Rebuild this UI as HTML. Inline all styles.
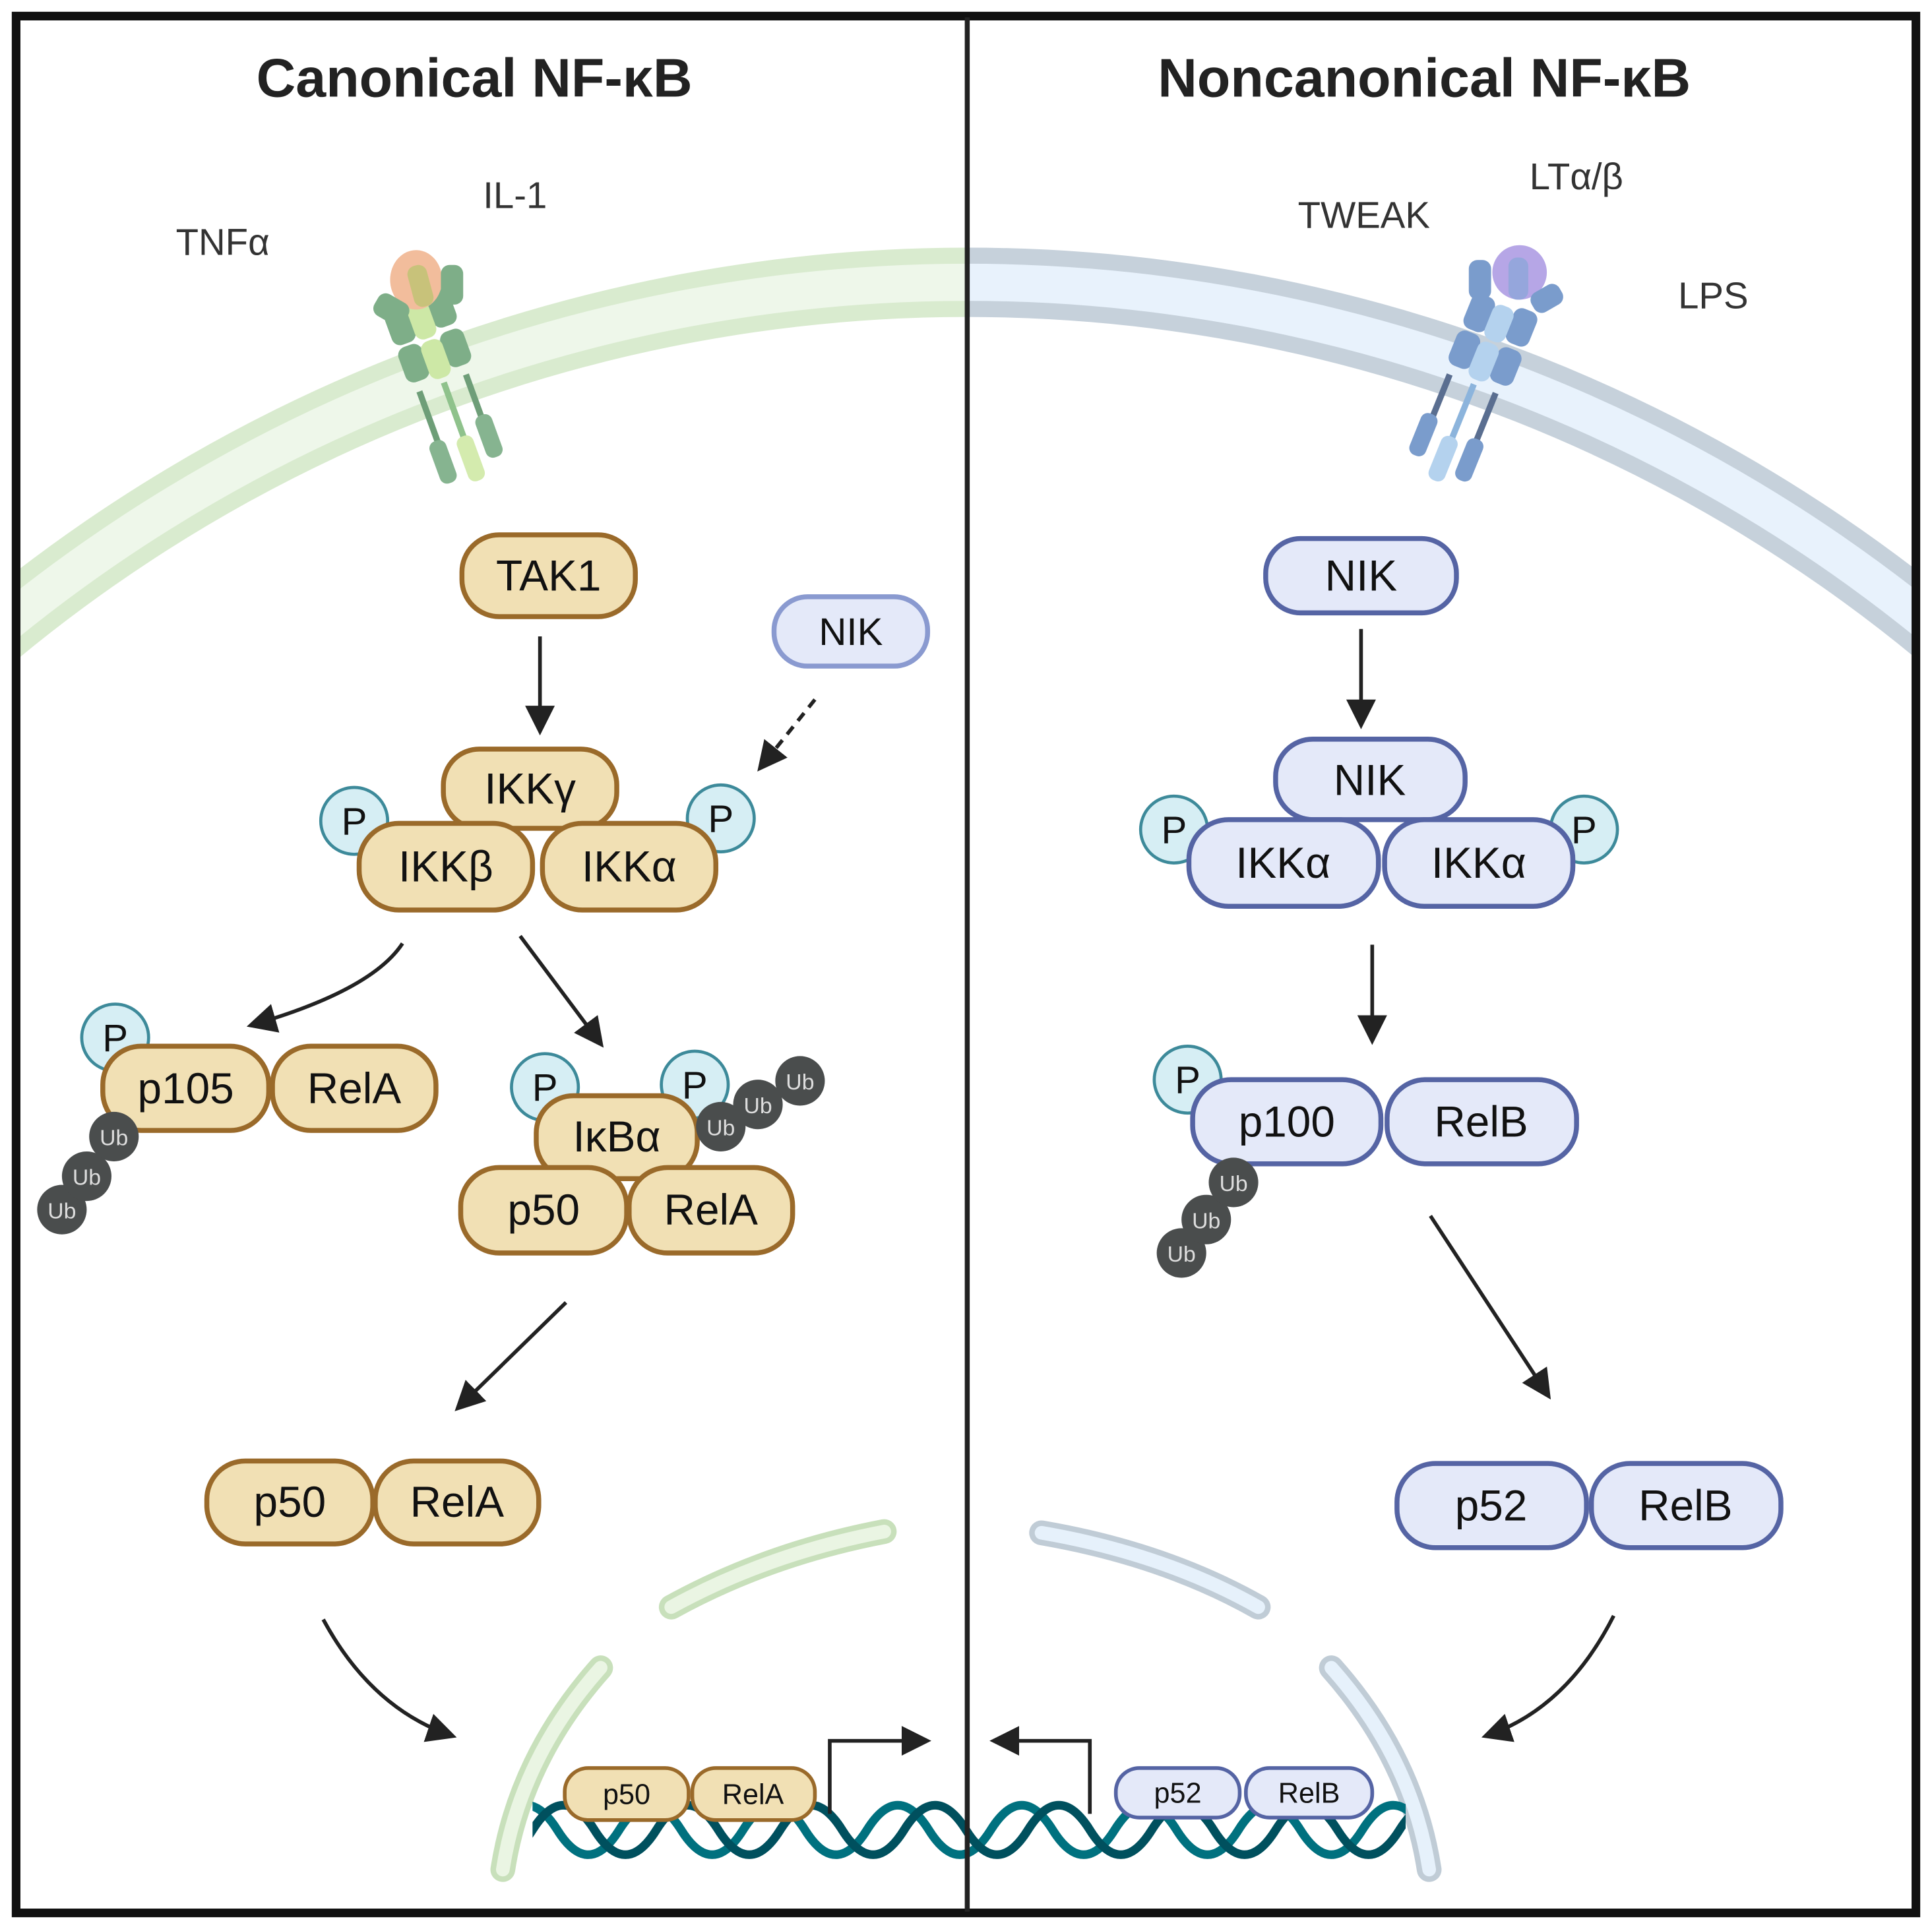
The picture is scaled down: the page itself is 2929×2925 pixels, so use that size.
<!DOCTYPE html>
<html><head><meta charset="utf-8">
<style>
html,body{margin:0;padding:0;background:#fff;overflow:hidden;width:2929px;height:2925px;position:relative;}
svg{display:block;position:absolute;left:0;top:0;}
text{font-family:"Liberation Sans","DejaVu Sans",sans-serif;}
</style></head>
<body>
<svg width="2929" height="2925" viewBox="0 0 1560 1558" preserveAspectRatio="none" xmlns="http://www.w3.org/2000/svg">
<defs>
<marker id="a" viewBox="0 0 12 12" refX="10" refY="6" markerWidth="24" markerHeight="24" markerUnits="userSpaceOnUse" orient="auto">
<path d="M0,0 L12,6 L0,12 z" fill="#222"/>
</marker>
<clipPath id="cl"><rect x="14" y="14" width="767" height="1530"/></clipPath>
<clipPath id="cr"><rect x="781" y="14" width="765" height="1530"/></clipPath>
<clipPath id="cd"><rect x="430" y="1400" width="705" height="130"/></clipPath>
</defs>
<rect width="1560" height="1558" fill="#fff"/>

<g clip-path="url(#cl)">
<circle cx="781" cy="1458" r="1230" fill="none" stroke="#d9ebcf" stroke-width="56"/>
<circle cx="781" cy="1458" r="1230" fill="none" stroke="#eef7ea" stroke-width="30"/>
</g>
<g clip-path="url(#cr)">
<circle cx="781" cy="1458" r="1230" fill="none" stroke="#c6d1db" stroke-width="56"/>
<circle cx="781" cy="1458" r="1230" fill="none" stroke="#e8f2fc" stroke-width="30"/>
</g>

<g fill="none" stroke-linecap="round">
<path d="M542,1298 Q620,1255 714,1237" stroke="#c8e0bb" stroke-width="20"/>
<path d="M542,1298 Q620,1255 714,1237" stroke="#eaf5e3" stroke-width="11"/>
<path d="M485,1347 Q420,1420 406,1510" stroke="#c8e0bb" stroke-width="20"/>
<path d="M485,1347 Q420,1420 406,1510" stroke="#eaf5e3" stroke-width="11"/>
<path d="M841,1238 Q940,1255 1016,1298" stroke="#c0ccd6" stroke-width="20"/>
<path d="M841,1238 Q940,1255 1016,1298" stroke="#e6f1fb" stroke-width="11"/>
<path d="M1075,1347 Q1140,1420 1154,1510" stroke="#c0ccd6" stroke-width="20"/>
<path d="M1075,1347 Q1140,1420 1154,1510" stroke="#e6f1fb" stroke-width="11"/>
</g>

<g transform="translate(352,290) rotate(-20)">
<rect x="-24" y="20" width="5" height="50" fill="#6e9e78"/>
<rect x="16" y="20" width="5" height="50" fill="#6e9e78"/>
<rect x="-3" y="20" width="5" height="55" fill="#8fc28c"/>
<rect x="-30" y="62" width="14" height="36" rx="6" fill="#86b490"/>
<rect x="12" y="55" width="14" height="36" rx="6" fill="#86b490"/>
<rect x="-8" y="66" width="14" height="38" rx="6" fill="#d4ebae"/>
<rect x="-28" y="-18" width="20" height="30" rx="7" fill="#7eae88"/>
<rect x="8" y="-18" width="20" height="30" rx="7" fill="#7eae88"/>
<rect x="-9" y="-16" width="18" height="32" rx="7" fill="#cde8a6"/>
<rect x="-28" y="-50" width="20" height="30" rx="7" fill="#7eae88"/>
<rect x="8" y="-52" width="20" height="30" rx="7" fill="#7eae88"/>
<rect x="-9" y="-48" width="18" height="30" rx="7" fill="#cde8a6"/>
</g>
<ellipse cx="336" cy="226" rx="21" ry="24" fill="#f2bd9c"/>
<rect x="331" y="214" width="16" height="34" rx="7" fill="#c8c27a" transform="rotate(-15 339 229)"/>
<rect x="302" y="240" width="28" height="20" rx="7" fill="#7eae88" transform="rotate(30 316 250)"/>
<rect x="356" y="214" width="18" height="32" rx="7" fill="#7eae88"/>

<g transform="translate(1198,292) rotate(22)">
<rect x="-24" y="20" width="5" height="50" fill="#5a6e90"/>
<rect x="16" y="20" width="5" height="50" fill="#5a6e90"/>
<rect x="-3" y="20" width="5" height="55" fill="#8cb4dc"/>
<rect x="-30" y="55" width="14" height="36" rx="6" fill="#7a9ccc"/>
<rect x="12" y="60" width="14" height="36" rx="6" fill="#7a9ccc"/>
<rect x="-8" y="66" width="14" height="38" rx="6" fill="#b4d2ee"/>
<rect x="-28" y="-18" width="20" height="30" rx="7" fill="#7a9ccc"/>
<rect x="8" y="-18" width="20" height="30" rx="7" fill="#7a9ccc"/>
<rect x="-9" y="-16" width="18" height="32" rx="7" fill="#b4d2ee"/>
<rect x="-28" y="-50" width="20" height="30" rx="7" fill="#7a9ccc"/>
<rect x="8" y="-52" width="20" height="30" rx="7" fill="#7a9ccc"/>
<rect x="-9" y="-48" width="18" height="30" rx="7" fill="#b4d2ee"/>
</g>
<rect x="1186" y="210" width="18" height="32" rx="7" fill="#7a9ccc"/>
<ellipse cx="1227" cy="220" rx="22" ry="22" fill="#b6a6e6"/>
<rect x="1218" y="208" width="16" height="34" rx="7" fill="#95a6dc"/>
<rect x="1236" y="232" width="26" height="18" rx="7" fill="#7a9ccc" transform="rotate(-30 1249 241)"/>

<g fill="none" stroke-width="7" clip-path="url(#cd)">
<path stroke="#00717f" d="M350,1478 q25,40 50,0 t50,0 t50,0 t50,0 t50,0 t50,0 t50,0 t50,0 t50,0 t50,0 t50,0 t50,0 t50,0 t50,0 t50,0 t50,0 t50,0 t50,0"/>
<path stroke="#00505e" d="M380,1478 q25,40 50,0 t50,0 t50,0 t50,0 t50,0 t50,0 t50,0 t50,0 t50,0 t50,0 t50,0 t50,0 t50,0 t50,0 t50,0 t50,0 t50,0"/>
</g>

<rect x="13" y="13" width="1534" height="1532" fill="none" stroke="#111" stroke-width="7"/>
<line x1="781" y1="14" x2="781" y2="1544" stroke="#222" stroke-width="4"/>

<text x="383" y="78" font-size="44" font-weight="bold" text-anchor="middle" fill="#222">Canonical NF-κB</text>
<text x="1150" y="78" font-size="44" font-weight="bold" text-anchor="middle" fill="#222">Noncanonical NF-κB</text>
<g font-size="30" fill="#333">
<text x="142" y="206">TNFα</text>
<text x="390" y="168">IL-1</text>
<text x="1048" y="184">TWEAK</text>
<text x="1235" y="153">LTα/β</text>
<text x="1355" y="249">LPS</text>
</g>

<g stroke="#222" stroke-width="3" fill="none" marker-end="url(#a)">
<line x1="436" y1="514" x2="436" y2="590"/>
<line x1="658" y1="565" x2="614" y2="620" stroke-dasharray="8,6"/>
<path d="M325,762 Q300,800 203,828"/>
<line x1="420" y1="756" x2="485" y2="843"/>
<line x1="457" y1="1052" x2="370" y2="1137"/>
<path d="M261,1308 Q300,1380 365,1402"/>
<polyline points="670,1465 670,1406 748,1406"/>
<line x1="1099" y1="508" x2="1099" y2="585"/>
<line x1="1108" y1="763" x2="1108" y2="840"/>
<line x1="1155" y1="982" x2="1250" y2="1127"/>
<path d="M1303,1305 Q1265,1380 1200,1402"/>
<polyline points="880,1465 880,1406 803,1406"/>
</g>

<g stroke="#9a6a2a" stroke-width="4" fill="#f1e0b4">
<rect x="373" y="432" width="140" height="66" rx="30"/>
<rect x="358" y="605" width="140" height="64" rx="29"/>
<circle cx="286" cy="663" r="27" fill="#d6eef4" stroke="#3d8a9a" stroke-width="2.5"/>
<circle cx="582" cy="661" r="27" fill="#d6eef4" stroke="#3d8a9a" stroke-width="2.5"/>
<rect x="290" y="665" width="140" height="70" rx="32"/>
<rect x="438" y="665" width="140" height="70" rx="32"/>
<circle cx="93" cy="838" r="27" fill="#d6eef4" stroke="#3d8a9a" stroke-width="2.5"/>
<rect x="83" y="845" width="134" height="68" rx="31"/>
<rect x="220" y="845" width="132" height="68" rx="31"/>
<circle cx="440" cy="878" r="27" fill="#d6eef4" stroke="#3d8a9a" stroke-width="2.5"/>
<circle cx="561" cy="876" r="27" fill="#d6eef4" stroke="#3d8a9a" stroke-width="2.5"/>
<rect x="433" y="885" width="130" height="67" rx="30"/>
<rect x="372" y="943" width="134" height="69" rx="31"/>
<rect x="508" y="943" width="132" height="69" rx="31"/>
<rect x="167" y="1180" width="134" height="67" rx="31"/>
<rect x="303" y="1180" width="132" height="67" rx="31"/>
<rect x="456" y="1428" width="100" height="42" rx="19" stroke-width="3"/>
<rect x="559" y="1428" width="99" height="42" rx="19" stroke-width="3"/>
</g>
<rect x="625" y="482" width="124" height="56" rx="27" fill="#e4e9f9" stroke="#8a9ad0" stroke-width="4"/>

<g stroke="#5564a4" stroke-width="4" fill="#e4e9f9">
<rect x="1022" y="435" width="154" height="60" rx="28"/>
<rect x="1030" y="597" width="153" height="65" rx="30"/>
<circle cx="948" cy="670" r="27" fill="#d6eef4" stroke="#3d8a9a" stroke-width="2.5"/>
<circle cx="1279" cy="670" r="27" fill="#d6eef4" stroke="#3d8a9a" stroke-width="2.5"/>
<rect x="960" y="662" width="153" height="70" rx="32"/>
<rect x="1118" y="662" width="152" height="70" rx="32"/>
<circle cx="959" cy="872" r="27" fill="#d6eef4" stroke="#3d8a9a" stroke-width="2.5"/>
<rect x="963" y="872" width="152" height="68" rx="31"/>
<rect x="1120" y="872" width="153" height="68" rx="31"/>
<rect x="1128" y="1182" width="153" height="68" rx="31"/>
<rect x="1285" y="1182" width="153" height="68" rx="31"/>
<rect x="901" y="1428" width="100" height="40" rx="19" stroke-width="3"/>
<rect x="1006" y="1428" width="102" height="40" rx="19" stroke-width="3"/>
</g>

<g fill="#4a4d4d">
<circle cx="50" cy="977" r="20"/><circle cx="70" cy="950" r="20"/><circle cx="92" cy="918" r="20"/>
<circle cx="646" cy="873" r="20"/><circle cx="612" cy="892" r="20"/><circle cx="582" cy="910" r="20"/>
<circle cx="954" cy="1012" r="20"/><circle cx="974" cy="985" r="20"/><circle cx="996" cy="955" r="20"/>
</g>
<g font-size="18" fill="#ddd" text-anchor="middle">
<text x="50" y="984">Ub</text><text x="70" y="957">Ub</text><text x="92" y="925">Ub</text>
<text x="646" y="880">Ub</text><text x="612" y="899">Ub</text><text x="582" y="917">Ub</text>
<text x="954" y="1019">Ub</text><text x="974" y="992">Ub</text><text x="996" y="962">Ub</text>
</g>

<g fill="#111" text-anchor="middle" font-size="35">
<text x="443" y="477">TAK1</text>
<text x="687" y="521" font-size="31">NIK</text>
<text x="428" y="649">IKKγ</text>
<text x="360" y="712">IKKβ</text>
<text x="508" y="712">IKKα</text>
<text x="150" y="891">p105</text>
<text x="286" y="891">RelA</text>
<text x="498" y="930">IκBα</text>
<text x="439" y="989">p50</text>
<text x="574" y="989">RelA</text>
<text x="234" y="1225">p50</text>
<text x="369" y="1225">RelA</text>
<text x="1099" y="477">NIK</text>
<text x="1106" y="642">NIK</text>
<text x="1036" y="709">IKKα</text>
<text x="1194" y="709">IKKα</text>
<text x="1039" y="918">p100</text>
<text x="1196" y="918">RelB</text>
<text x="1204" y="1228">p52</text>
<text x="1361" y="1228">RelB</text>
<g font-size="31">
<text x="286" y="674">P</text><text x="582" y="672">P</text><text x="93" y="849">P</text>
<text x="440" y="889">P</text><text x="561" y="887">P</text>
<text x="948" y="681">P</text><text x="1279" y="681">P</text><text x="959" y="883">P</text>
</g>
<g font-size="23">
<text x="506" y="1457">p50</text><text x="608" y="1457">RelA</text>
<text x="951" y="1456">p52</text><text x="1057" y="1456">RelB</text>
</g>
</g>
</svg>
</body></html>
